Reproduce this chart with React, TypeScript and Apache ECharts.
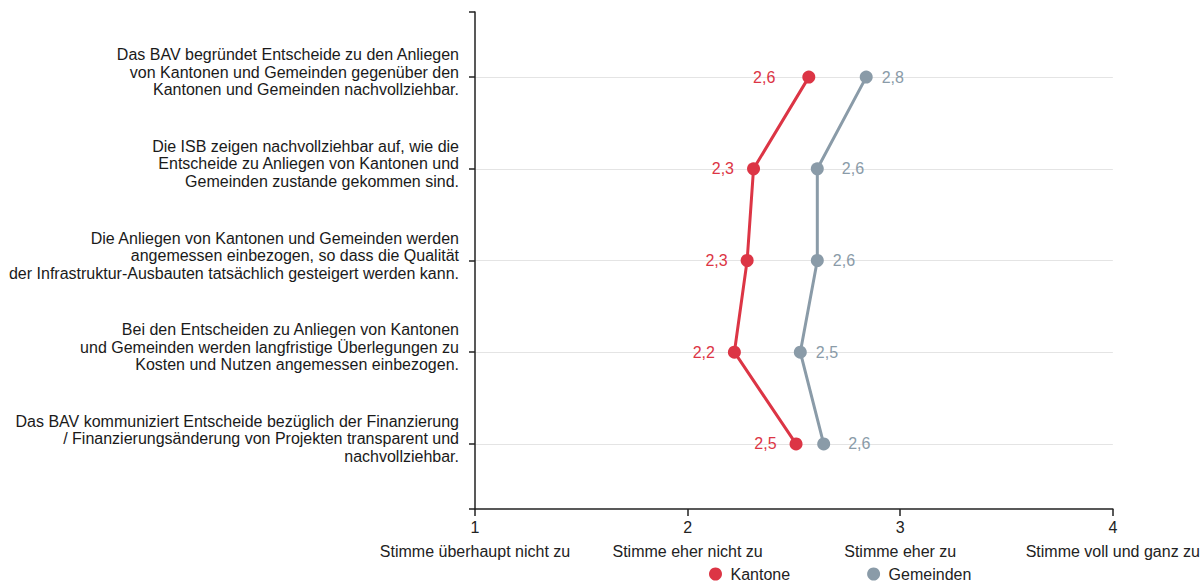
import React, { useEffect, useRef } from "react";
import * as echarts from "echarts";

const categories: string[] = [
  "Das BAV begründet Entscheide zu den Anliegen\nvon Kantonen und Gemeinden gegenüber den\nKantonen und Gemeinden nachvollziehbar.",
  "Die ISB zeigen nachvollziehbar auf, wie die\nEntscheide zu Anliegen von Kantonen und\nGemeinden zustande gekommen sind.",
  "Die Anliegen von Kantonen und Gemeinden werden\nangemessen einbezogen, so dass die Qualität\nder Infrastruktur-Ausbauten tatsächlich gesteigert werden kann.",
  "Bei den Entscheiden zu Anliegen von Kantonen\nund Gemeinden werden langfristige Überlegungen zu\nKosten und Nutzen angemessen einbezogen.",
  "Das BAV kommuniziert Entscheide bezüglich der Finanzierung\n/ Finanzierungsänderung von Projekten transparent und\nnachvollziehbar.",
];

const kantone: number[] = [2.57, 2.31, 2.28, 2.22, 2.51];
const gemeinden: number[] = [2.84, 2.61, 2.61, 2.53, 2.64];

const scaleTicks: number[] = [1, 2, 3, 4];
const scaleLabels: string[] = [
  "Stimme überhaupt nicht zu",
  "Stimme eher nicht zu",
  "Stimme eher zu",
  "Stimme voll und ganz zu",
];

const seriesNames: string[] = ["Kantone", "Gemeinden"];

const RED = "#dc3545";
const GRAY = "#8a9ba8";
const FONT = "'Liberation Sans', Arial, Helvetica, sans-serif";
const Y_MIN = -0.71;
const Y_MAX = 4.71;

const redDist = [27, 13, 13, 13, 13];
const grayDist = [9, 18, 9, 9, 18];

const fmt = (v: number) => v.toFixed(1).replace(".", ",");

export default function App() {
  const ref = useRef<HTMLDivElement>(null);

  useEffect(() => {
    document.body.style.margin = "0";
    if (!ref.current) return;
    const chart = echarts.init(ref.current, null, { renderer: "svg" });

    const mk = (
      name: string,
      values: number[],
      color: string,
      pos: "left" | "right",
      dist: number[]
    ) => ({
      name,
      type: "line",
      data: values.map((v, i) => ({
        value: [v, i],
        label: { distance: dist[i] },
      })),
      symbol: "circle",
      symbolSize: 13,
      lineStyle: { width: 3, color },
      itemStyle: { color },
      label: {
        show: true,
        position: pos,
        color,
        fontSize: 16,
        fontFamily: FONT,
        formatter: (p: any) => fmt(p.value[0]),
      },
      z: 3,
    });

    chart.setOption({
      animation: false,
      textStyle: { fontFamily: FONT },
      grid: { left: 475, right: 87, top: 12, bottom: 73, containLabel: false },
      legend: {
        data: seriesNames,
        icon: "circle",
        itemWidth: 20,
        itemHeight: 13,
        left: 709,
        top: 566,
        itemGap: 77,
        padding: 0,
        textStyle: { fontSize: 16, color: "#222", fontFamily: FONT },
      },
      xAxis: {
        type: "value",
        min: 1,
        max: 4,
        interval: 1,
        axisLine: { show: true, onZero: false, lineStyle: { color: "#222", width: 1.5 } },
        axisTick: { show: true, length: 7, lineStyle: { color: "#222", width: 1.5 } },
        splitLine: { show: false },
        axisLabel: {
          margin: 6,
          formatter: (v: number) => {
            const i = scaleTicks.indexOf(Math.round(v));
            return i >= 0 ? `{n|${scaleTicks[i]}}\n{t|${scaleLabels[i]}}` : "";
          },
          rich: {
            n: { fontSize: 16, lineHeight: 24, color: "#222", fontFamily: FONT },
            t: { fontSize: 16, lineHeight: 24, color: "#222", fontFamily: FONT },
          },
        },
      },
      yAxis: {
        type: "value",
        inverse: true,
        min: Y_MIN,
        max: Y_MAX,
        minInterval: 1,
        maxInterval: 1,
        splitNumber: 5,
        axisLine: { show: true, onZero: false, lineStyle: { color: "#222", width: 1.5 } },
        axisTick: { show: true, length: 6, lineStyle: { color: "#222", width: 1.5 } },
        splitLine: {
          show: true,
          showMinLine: false,
          showMaxLine: false,
          lineStyle: { color: "#e4e4e4", width: 1 },
        },
        axisLabel: {
          margin: 16,
          align: "right",
          showMinLabel: false,
          showMaxLabel: false,
          formatter: (v: number) => {
            const r = Math.round(v);
            if (Math.abs(v - r) > 1e-6) return "";
            const txt = categories[r];
            if (!txt) return "";
            return txt.split("\n").map((l) => `{c|${l}}`).join("\n") + "\n{s| }";
          },
          rich: {
            c: { fontSize: 16, lineHeight: 17.5, color: "#1a1a1a", fontFamily: FONT, align: "right" },
            s: { fontSize: 8, lineHeight: 10, align: "right" },
          },
        },
      },
      series: [
        mk(seriesNames[0], kantone, RED, "left", redDist),
        mk(seriesNames[1], gemeinden, GRAY, "right", grayDist),
      ],
    });

    // end ticks of the y axis, positioned through the axis scale
    const x0 = chart.convertToPixel({ xAxisIndex: 0 }, 1) as number;
    const yTop = chart.convertToPixel({ yAxisIndex: 0 }, Y_MIN) as number;
    const yBot = chart.convertToPixel({ yAxisIndex: 0 }, Y_MAX) as number;
    chart.setOption({
      graphic: [yTop, yBot].map((y) => ({
        type: "line",
        shape: { x1: x0 - 6, y1: y, x2: x0, y2: y },
        style: { stroke: "#222", lineWidth: 1.5 },
        z: 10,
      })),
    });

    return () => chart.dispose();
  }, []);

  return <div ref={ref} style={{ width: 1203, height: 582 }} />;
}
